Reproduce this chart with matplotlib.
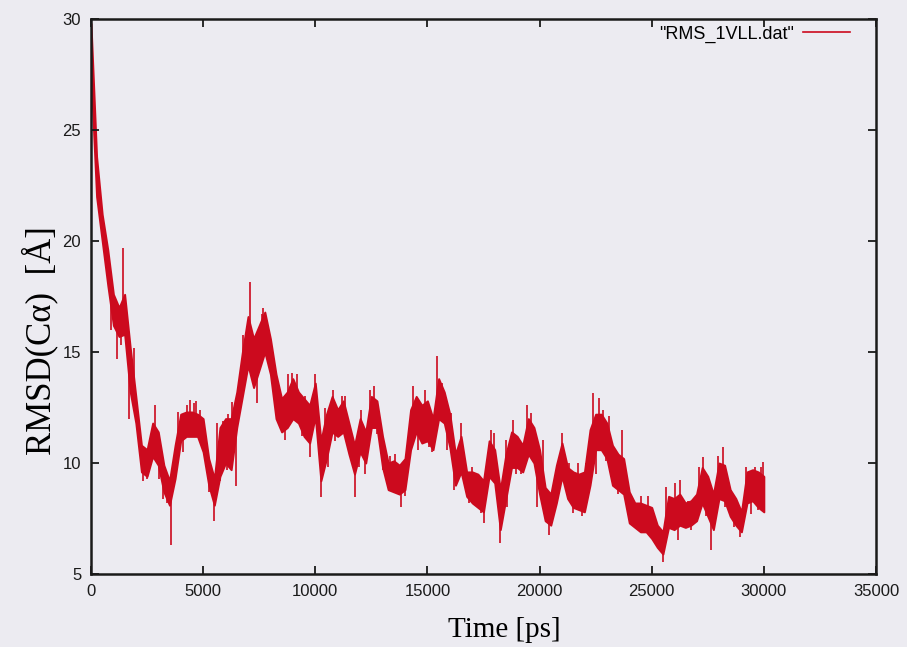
import numpy as np
import matplotlib
matplotlib.use('Agg')
import matplotlib.pyplot as plt

BG    = '#ecebf1'
RED   = '#cc0a1e'
INK   = '#1a1a1a'

time_ps = np.arange(0, 30001, 250)
rmsd_lo = [
    27.5, 22.0, 20.0, 18.0, 16.2, 15.7, 15.8, 13.2, 11.8, 9.6,
    9.4, 10.3, 9.9, 8.7, 8.1, 9.3, 11.0, 11.2, 11.2, 11.2,
    10.5, 9.0, 8.1, 9.4, 10.0, 9.7, 11.6, 13.0, 14.4, 13.4,
    14.2, 15.0, 14.0, 12.0, 11.4, 11.6, 12.0, 11.8, 11.2, 10.9,
    12.1, 9.2, 10.2, 11.4, 11.2, 11.4, 10.4, 9.5, 10.5, 10.0,
    11.6, 11.6, 9.8, 8.8, 8.7, 8.6, 8.8, 10.6, 11.4, 10.9,
    11.0, 10.6, 12.0, 11.8, 10.7, 9.0, 9.6, 8.5, 8.2, 8.0,
    7.8, 9.4, 9.1, 7.0, 8.4, 9.8, 9.8, 9.6, 10.4, 10.0,
    8.6, 7.4, 7.2, 8.2, 9.4, 8.4, 8.0, 7.9, 7.8, 9.0,
    10.6, 10.6, 10.2, 9.0, 8.8, 8.6, 7.3, 7.1, 6.9, 6.9,
    6.6, 6.2, 5.9, 7.1, 7.0, 7.2, 7.1, 7.2, 7.4, 8.2,
    7.6, 7.0, 8.4, 8.3, 7.6, 7.2, 6.9, 8.2, 8.3, 8.0,
    7.8,
]
rmsd_hi = [
    29.8, 23.8, 21.2, 19.6, 17.6, 17.0, 17.6, 15.2, 13.0, 10.8,
    10.6, 11.8, 11.4, 9.9, 9.2, 10.8, 12.2, 12.3, 12.3, 12.2,
    12.0, 10.2, 9.3, 11.6, 12.0, 12.0, 13.2, 15.0, 16.6, 15.6,
    16.2, 16.8, 15.6, 14.0, 12.9, 13.2, 13.8, 13.2, 12.9, 12.6,
    13.6, 11.0, 12.2, 13.0, 12.4, 12.8, 11.8, 10.8, 12.0, 11.4,
    13.0, 12.8, 11.2, 10.0, 10.1, 9.9, 10.2, 12.4, 13.0, 12.6,
    12.8, 12.0, 13.8, 13.2, 12.2, 10.4, 11.2, 9.6, 9.6, 9.5,
    9.2, 11.0, 10.6, 8.8, 10.4, 11.4, 11.2, 10.8, 12.0, 11.6,
    10.6, 8.9, 8.6, 9.9, 10.9, 9.8, 9.6, 9.5, 9.6, 11.5,
    12.2, 12.2, 11.8, 10.8, 10.4, 10.2, 8.7, 8.2, 8.2, 8.1,
    8.0, 7.2, 6.9, 8.5, 8.4, 8.6, 8.2, 8.3, 8.6, 9.8,
    9.4, 8.6, 10.0, 9.9, 8.8, 8.4, 7.8, 9.6, 9.7, 9.6,
    9.4,
]

# isolated spikes / dips sticking out of the band
spike_t = [1170, 1450, 1900, 2840, 3030, 3560, 3900, 4400, 4700, 5470,
           5600, 6300, 6450, 6760, 7090, 7390, 7680, 8160, 8650, 8950,
           9760, 10000, 10250, 10770, 11340, 11750, 12050, 12600, 13840, 14380,
           14900, 15200, 15410, 16200, 16480, 17520, 17820, 18230, 18810, 19420,
           19900, 20160, 20430, 20980, 21900, 22370, 22660, 23670, 25500, 25650,
           26170, 26270, 27280, 27660, 28170, 28920, 29960,
           700, 900, 1350, 1700, 2300, 2500, 3200, 3400, 4100, 4300,
           4600, 4860, 5250, 5750, 5900, 6050, 6100, 7610, 8500, 8800,
           9170, 9390, 9540, 9900, 10440, 10590, 10900, 11190, 11550, 11930,
           12230, 12460, 12750, 13040, 13340, 13560, 14010, 14600, 14750, 15050,
           15660, 15880, 16030, 16630, 16850, 17000, 17220, 17370, 17670, 17970,
           18490, 18570, 18970, 19190, 19600, 19750, 20040, 20730, 21030, 21330,
           21470, 21700, 22070, 22510, 22810, 22960, 23110, 23480, 24220, 24520,
           24820, 24960, 25280, 26020, 26610, 26760, 27130, 27430, 27950, 28250,
           28540, 28690, 29220, 29440, 29590, 29730, 29880]
spike_v = [14.7, 19.7, 15.2, 12.6, 9.3, 6.3, 12.3, 12.85, 12.8, 7.4,
           11.8, 12.75, 8.95, 15.75, 18.15, 12.7, 17.0, 14.05, 11.05, 14.05,
           10.27, 14.0, 8.47, 13.3, 13.0, 8.47, 12.4, 13.45, 8.0, 13.45,
           13.3, 10.5, 14.8, 8.8, 11.8, 7.3, 11.5, 6.4, 11.95, 12.6,
           8.0, 11.05, 6.76, 11.34, 7.6, 13.14, 12.92, 11.49, 5.55, 8.93,
           6.53, 9.23, 10.28, 6.07, 10.73, 6.68, 10.05,
           18.9, 16.0, 15.3, 12.0, 9.2, 9.3, 8.4, 8.2, 10.5, 12.6,
           12.7, 12.4, 8.7, 9.2, 11.9, 9.7, 12.2, 16.7, 11.9, 14.0,
           14.0, 11.2, 13.0, 11.9, 12.5, 9.8, 11.0, 13.0, 11.0, 9.8,
           9.5, 13.3, 11.3, 9.7, 10.3, 10.4, 8.5, 10.6, 12.4, 10.7,
           13.6, 10.6, 12.25, 9.5, 8.2, 9.8, 9.5, 7.75, 9.1, 11.35,
           11.05, 8.0, 9.5, 9.5, 12.25, 10.15, 8.8, 8.0, 9.2, 10.0,
           7.75, 10.0, 10.0, 9.5, 12.4, 10.1, 12.1, 8.6, 7.1, 8.5,
           8.5, 6.7, 7.0, 9.1, 8.3, 7.0, 9.8, 7.6, 10.3, 8.0,
           8.8, 7.1, 9.8, 7.7, 9.8, 7.9, 9.8]

x_ticks = [0, 5000, 10000, 15000, 20000, 25000, 30000, 35000]
y_ticks = [5, 10, 15, 20, 25, 30]

plt.rcParams.update({
    'figure.facecolor': BG,
    'axes.facecolor':   BG,
    'axes.edgecolor':   INK,
    'font.family':      ['Liberation Sans', 'DejaVu Sans'],
})

fig = plt.figure(figsize=(9.07, 6.47), dpi=100)
ax = fig.add_axes([0.1003, 0.1128, 0.8655, 0.8578])

lo = np.array(rmsd_lo)
hi = np.array(rmsd_hi)
ax.fill_between(time_ps, lo, hi, color=RED, lw=1.4, edgecolor=RED)
base = np.interp(spike_t, time_ps, (lo + hi) / 2)
ax.vlines(spike_t, base, spike_v, color=RED, lw=1.2)
ax.plot([], [], color=RED, lw=1.2, label='"RMS_1VLL.dat"')

ax.set_xlim(0, 35000)
ax.set_ylim(5, 30)
ax.set_xticks(x_ticks)
ax.set_yticks(y_ticks)
ax.tick_params(direction='in', length=6, width=1.3, top=True, right=True,
               labelsize=12, colors=INK, pad=7)
for s in ax.spines.values():
    s.set_linewidth(1.8)

ax.set_xlabel('Time [ps]', fontsize=21, family=['Liberation Serif'])
ax.set_ylabel('RMSD(C\u03b1)  [\u00c5]', fontsize=25, family=['Liberation Serif'])
ax.xaxis.set_label_coords(0.527, -0.077)
ax.yaxis.set_label_coords(-0.042, 0.42)

ax.legend(loc='upper right', bbox_to_anchor=(0.967, 0.988), frameon=False,
          markerfirst=False, fontsize=13, handlelength=2.6, borderpad=0,
          borderaxespad=0, handletextpad=0.5)

fig.savefig('out.png', dpi=100, facecolor=BG)
